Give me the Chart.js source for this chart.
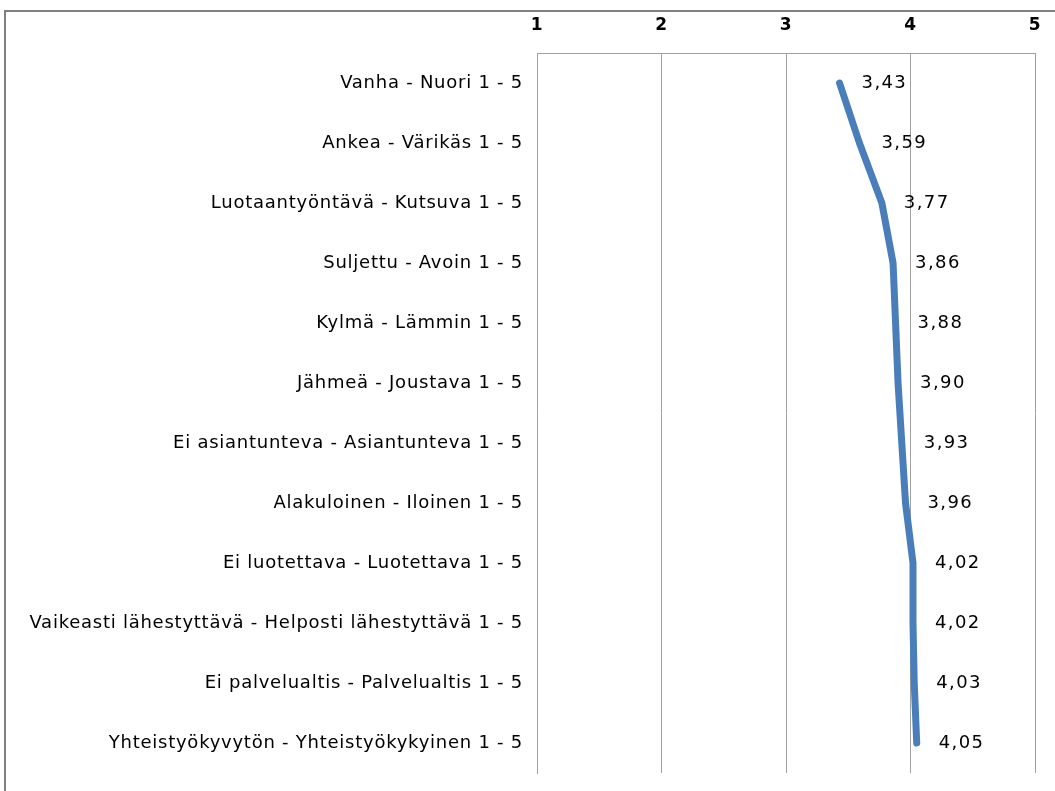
<!DOCTYPE html>
<html>
<head>
<meta charset="utf-8">
<script src="https://cdn.jsdelivr.net/npm/chart.js@4/dist/chart.umd.min.js"></script>
<style>
  html, body { margin: 0; padding: 0; background: #ffffff; }
  #wrap { position: relative; width: 1055px; height: 791px; }
</style>
</head>
<body>
<div id="wrap"><canvas id="chart" width="1055" height="791"></canvas></div>
<script>
// Adjective pairs rated on a 1–5 scale (average score per pair)
const categories = [
  'Vanha - Nuori 1 - 5',
  'Ankea - Värikäs 1 - 5',
  'Luotaantyöntävä - Kutsuva 1 - 5',
  'Suljettu - Avoin 1 - 5',
  'Kylmä - Lämmin 1 - 5',
  'Jähmeä - Joustava 1 - 5',
  'Ei asiantunteva - Asiantunteva 1 - 5',
  'Alakuloinen - Iloinen 1 - 5',
  'Ei luotettava - Luotettava 1 - 5',
  'Vaikeasti lähestyttävä - Helposti lähestyttävä 1 - 5',
  'Ei palvelualtis - Palvelualtis 1 - 5',
  'Yhteistyökyvytön - Yhteistyökykyinen 1 - 5'
];
const scores = [3.43, 3.59, 3.77, 3.86, 3.88, 3.90, 3.93, 3.96, 4.02, 4.02, 4.03, 4.05];
const scaleTicks = [1, 2, 3, 4, 5];

const FONT = '"DejaVu Sans", "Open Sans", sans-serif';
const SPACING = '0.75px';

// Frame around the whole figure (top and left edges) + text tracking
const framePlugin = {
  id: 'frame',
  beforeDraw(chart) {
    const ctx = chart.ctx;
    ctx.letterSpacing = SPACING;
    ctx.save();
    ctx.strokeStyle = '#808080';
    ctx.lineWidth = 2;
    ctx.beginPath();
    ctx.moveTo(5, 791);
    ctx.lineTo(5, 11);
    ctx.lineTo(1055, 11);
    ctx.stroke();
    ctx.restore();
  }
};

// Value labels to the right of each point, with a decimal comma
const valueLabels = {
  id: 'valueLabels',
  afterDatasetsDraw(chart) {
    const ctx = chart.ctx;
    const meta = chart.getDatasetMeta(0);
    ctx.save();
    ctx.font = '18px ' + FONT;
    ctx.letterSpacing = '1.4px';
    ctx.fillStyle = '#000000';
    ctx.textAlign = 'left';
    ctx.textBaseline = 'middle';
    meta.data.forEach((pt, i) => {
      const txt = scores[i].toFixed(2).replace('.', ',');
      ctx.fillText(txt, pt.x + 22, pt.y);
    });
    ctx.restore();
  }
};

new Chart(document.getElementById('chart'), {
  type: 'line',
  data: {
    labels: categories,
    datasets: [{
      data: scores,
      borderColor: '#4a7ebb',
      borderWidth: 7,
      borderCapStyle: 'round',
      borderJoinStyle: 'round',
      pointRadius: 0,
      tension: 0,
      fill: false
    }]
  },
  options: {
    indexAxis: 'y',
    responsive: false,
    animation: false,
    layout: { padding: { left: 0, top: 0, right: 20, bottom: 18 } },
    plugins: {
      legend: { display: false },
      tooltip: { enabled: false }
    },
    scales: {
      x: {
        type: 'linear',
        position: 'top',
        min: 1,
        max: 5,
        afterBuildTicks(scale) { scale.ticks = scaleTicks.map(v => ({ value: v })); },
        afterFit(scale) {
          scale.height = 53;
          scale.paddingLeft = 0;
          scale.paddingRight = 0;
        },
        ticks: {
          color: '#000000',
          font: { family: FONT, size: 17, weight: 'bold' },
          padding: 17
        },
        grid: { color: '#a0a0a0', lineWidth: 1, drawTicks: false },
        border: { display: true, color: '#a0a0a0', width: 1 }
      },
      y: {
        type: 'category',
        offset: true,
        afterFit(scale) {
          scale.width = 537;
          scale.paddingTop = 0;
          scale.paddingBottom = 0;
        },
        ticks: {
          color: '#000000',
          font: { family: FONT, size: 18 },
          padding: 14,
          autoSkip: false
        },
        grid: { display: false, drawTicks: false },
        border: { display: true, color: '#a0a0a0', width: 1 }
      }
    }
  },
  plugins: [framePlugin, valueLabels]
});
</script>
</body>
</html>
